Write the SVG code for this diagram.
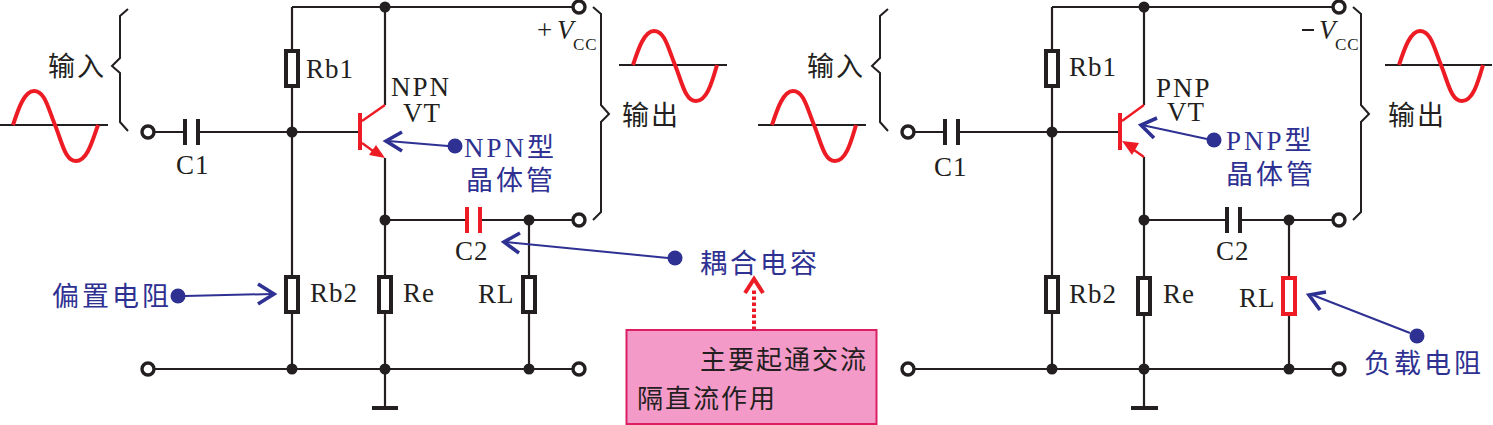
<svg xmlns="http://www.w3.org/2000/svg" width="1493" height="425" viewBox="0 0 1493 425">
<style>
.w{fill:none;stroke:#231f20;stroke-width:2.2}
.br{fill:none;stroke:#231f20;stroke-width:2}
.ax{fill:none;stroke:#231f20;stroke-width:2}
.sine{fill:none;stroke:#ed1c24;stroke-width:4}
.j{fill:#231f20}
.t{fill:#fff;stroke:#231f20;stroke-width:3.4}
.r{fill:#fff;stroke:#231f20;stroke-width:4}
.rr{fill:#fff;stroke:#ed1c24;stroke-width:4}
.cap{fill:none;stroke:#231f20;stroke-width:4}
.capr{fill:none;stroke:#ed1c24;stroke-width:4}
.red{fill:none;stroke:#ed1c24;stroke-width:2.4}
.bar{fill:none;stroke:#ed1c24;stroke-width:4}
.hd{fill:#ed1c24}
.gnd{fill:none;stroke:#231f20;stroke-width:4}
.bl{fill:none;stroke:#2e3192;stroke-width:2}
.chev{fill:none;stroke:#2e3192;stroke-width:3.6}
.dot{fill:#2e3192}
.e{font-family:"Liberation Serif",serif;font-size:27px;fill:#231f20;letter-spacing:1px}
.n{letter-spacing:2px}
.i{font-family:"Liberation Serif",serif;font-size:27px;font-style:italic;fill:#231f20}
.s{font-family:"Liberation Serif",serif;font-size:17px;fill:#231f20;letter-spacing:1px}
.c{font-family:"Noto Sans CJK SC",sans-serif;font-size:26px;fill:#231f20;letter-spacing:2px}
.cb{font-family:"Liberation Serif","Noto Sans CJK SC",sans-serif;font-size:27px;fill:#2e3192;letter-spacing:3px}
.ck{font-family:"Noto Sans CJK SC",sans-serif;font-size:27px;fill:#231f20;letter-spacing:2px}
</style>

<g id="connectors">
<path class="w" d="M292 7H573M385 7V105M292 7V50M292 86V276M292 312V369M154 132H185M198 132H360M385 158V369M154 369H573M385 220H467M480 220H573M529 220V276M529 312V369M385 369V407"/>
<path class="w" d="M1052 7H1333M1144 7V105M1052 7V50M1052 86V276M1052 312V369M914 132H945M958 132H1120M1144 157V369M914 369H1333M1144 220H1227M1240 220H1333M1289 220V277M1289 315V369M1144 369V407"/>
<path class="bl" d="M448 146L388 141"/>
<path class="chev" d="M402 132L386 141L402 151"/>
<path class="bl" d="M668 258L506 242"/>
<path class="chev" d="M520 233L504 242L519 253"/>
<path class="bl" d="M185 296L272 294"/>
<path class="chev" d="M258 284L274 294L258 304"/>
<path class="bl" d="M1207 139L1142 125"/>
<path class="chev" d="M1157 118L1141 125L1154 138"/>
<path class="bl" d="M1410 333L1310 294"/>
<path class="chev" d="M1326 292L1309 295L1320 310"/>
<path d="M754 330V288" fill="none" stroke="#ed1c24" stroke-width="4" stroke-dasharray="3.5 2.5"/>
<path d="M745 293L754 279L763 293" fill="none" stroke="#ed1c24" stroke-width="4"/>
</g>

<g id="junctions-left">
<circle class="j" cx="385" cy="7" r="5.5"/><circle class="j" cx="292" cy="132" r="5.5"/><circle class="j" cx="292" cy="369" r="5.5"/><circle class="j" cx="385" cy="220" r="5.5"/><circle class="j" cx="385" cy="369" r="5.5"/><circle class="j" cx="529" cy="220" r="5.5"/><circle class="j" cx="529" cy="369" r="5.5"/>
</g>
<g id="junctions-right">
<circle class="j" cx="1144" cy="7" r="5.5"/><circle class="j" cx="1052" cy="132" r="5.5"/><circle class="j" cx="1052" cy="369" r="5.5"/><circle class="j" cx="1144" cy="220" r="5.5"/><circle class="j" cx="1144" cy="369" r="5.5"/><circle class="j" cx="1289" cy="220" r="5.5"/><circle class="j" cx="1289" cy="369" r="5.5"/>
</g>

<g id="terminals-left">
<circle class="t" cx="148" cy="132" r="6"/><circle class="t" cx="148" cy="369" r="6"/><circle class="t" cx="579" cy="7" r="6"/><circle class="t" cx="579" cy="220" r="6"/><circle class="t" cx="579" cy="369" r="6"/>
</g>
<g id="terminals-right">
<circle class="t" cx="908" cy="132" r="6"/><circle class="t" cx="908" cy="369" r="6"/><circle class="t" cx="1339" cy="7" r="6"/><circle class="t" cx="1339" cy="220" r="6"/><circle class="t" cx="1339" cy="369" r="6"/>
</g>

<g id="input-left">
<path class="br" d="M128 9L120 16V58L112 66L120 73V122L128 131"/>
<text class="ck" x="48" y="76">输入</text>
<path class="ax" d="M0 125H108"/>
<path class="sine" d="M13 125C18 110 24 91 34 91C45 91 48 108 55 125C62 142 65 161 76 161C87 161 92 142 98 125"/>
</g>
<g id="output-left">
<path class="br" d="M593 7L601 14V105L609 114L601 122V212L593 220"/>
<text class="ck" x="622" y="125">输出</text>
<path class="ax" d="M619 65H727"/>
<path class="sine" d="M633 65C638 50 644 31 654 31C665 31 668 48 675 65C682 82 685 101 696 101C707 101 712 82 717 65"/>
<text class="e" x="537" y="39">+</text><text class="i" x="557" y="39">V</text><text class="s" x="573" y="50">CC</text>
</g>
<g id="C1"><path class="cap" d="M185 119V145M198 119V145"/><text class="e" x="176" y="174">C1</text></g>
<g id="Rb1"><rect class="r" x="286" y="51" width="12" height="35"/><text class="e" x="306" y="78">Rb1</text></g>
<g id="Rb2"><rect class="r" x="286" y="277" width="12" height="35"/><text class="e" x="310" y="302">Rb2</text></g>
<g id="Re"><rect class="r" x="379" y="277" width="12" height="35"/><text class="e" x="403" y="302">Re</text></g>
<g id="RL"><rect class="r" x="523" y="277" width="12" height="35"/><text class="e" x="478" y="303">RL</text></g>
<g id="C2"><path class="capr" d="M467 207V233M480 207V233"/><text class="e" x="455" y="260">C2</text></g>
<g id="VT-NPN">
<path class="bar" d="M360 113V150"/>
<path class="red" d="M362 121L385 105M362 143L373 151"/>
<path class="hd" d="M385 158L369 155L376 145Z"/>
<text class="e n" x="391" y="96">NPN</text><text class="e" x="403" y="122">VT</text>
</g>
<g id="ground-left"><path class="gnd" d="M372 408H398"/></g>
<g id="label-npn"><circle class="dot" cx="455" cy="146" r="7.5"/><text class="cb" x="464" y="157">NPN型</text><text class="cb" x="466" y="190">晶体管</text></g>
<g id="label-coupling"><circle class="dot" cx="675" cy="258" r="7.5"/><text class="cb" x="700" y="273">耦合电容</text></g>
<g id="label-bias"><circle class="dot" cx="178" cy="296" r="7.5"/><text class="cb" x="52" y="306">偏置电阻</text></g>
<g id="note">
<rect x="626.500" y="330" width="250" height="94" fill="#f49ac9" stroke="#dc1e63" stroke-width="2"/>
<text class="c" x="700" y="369">主要起通交流</text>
<text class="c" x="637" y="408">隔直流作用</text>
</g>

<g id="input-right">
<path class="br" d="M888 9L880 16V58L872 66L880 73V122L888 131"/>
<text class="ck" x="807" y="76">输入</text>
<path class="ax" d="M758 125H866"/>
<path class="sine" d="M772 125C777 110 783 91 793 91C804 91 807 108 814 125C821 142 824 161 835 161C846 161 851 142 856 125"/>
</g>
<g id="output-right">
<path class="br" d="M1353 7L1361 14V105L1369 114L1361 122V212L1353 220"/>
<text class="ck" x="1388" y="125">输出</text>
<path class="ax" d="M1385 65H1492"/>
<path class="sine" d="M1399 65C1404 50 1410 31 1420 31C1431 31 1434 48 1441 65C1448 82 1451 101 1462 101C1473 101 1478 82 1483 65"/>
<path class="ax" d="M1302 30H1314"/><text class="i" x="1319" y="39">V</text><text class="s" x="1335" y="50">CC</text>
</g>
<g id="C1-r"><path class="cap" d="M945 119V145M958 119V145"/><text class="e" x="934" y="176">C1</text></g>
<g id="Rb1-r"><rect class="r" x="1046" y="51" width="12" height="35"/><text class="e" x="1069" y="76">Rb1</text></g>
<g id="Rb2-r"><rect class="r" x="1046" y="277" width="12" height="35"/><text class="e" x="1069" y="303">Rb2</text></g>
<g id="Re-r"><rect class="r" x="1138" y="278" width="12" height="36"/><text class="e" x="1163" y="303">Re</text></g>
<g id="RL-r"><rect class="rr" x="1283" y="278" width="12" height="36"/><text class="e" x="1239" y="307">RL</text></g>
<g id="C2-r"><path class="cap" d="M1227 207V233M1240 207V233"/><text class="e" x="1216" y="260">C2</text></g>
<g id="VT-PNP">
<path class="bar" d="M1120 113V150"/>
<path class="red" d="M1122 121L1144 105M1134 150L1144 157"/>
<path class="hd" d="M1122 141L1139 143L1132 155Z"/>
<text class="e n" x="1156" y="97">PNP</text><text class="e" x="1167" y="121">VT</text>
</g>
<g id="ground-right"><path class="gnd" d="M1131 408H1158"/></g>
<g id="label-pnp"><circle class="dot" cx="1214" cy="140" r="7.5"/><text class="cb" x="1226" y="150">PNP型</text><text class="cb" x="1226" y="184">晶体管</text></g>
<g id="label-load"><circle class="dot" cx="1417" cy="336" r="7.5"/><text class="cb" x="1364" y="373">负载电阻</text></g>
</svg>
